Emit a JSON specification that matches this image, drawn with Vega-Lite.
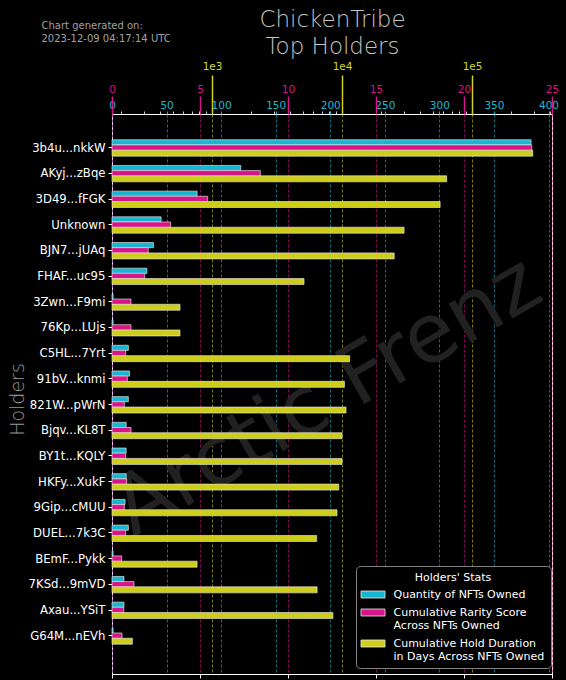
{
  "$schema": "https://vega.github.io/schema/vega-lite/v6.json",
  "autosize": "none",
  "width": 440,
  "height": 560,
  "padding": {"left": 112, "top": 114, "right": 14, "bottom": 6},
  "background": "black",
  "config": {
    "font": "DejaVu Sans",
    "view": {"stroke": "white", "strokeWidth": 1},
    "axis": {"labelFlush": false, "labelOverlap": false, "labelBound": false, "domain": false}
  },
  "data": {
    "values": [
      {"holder": "3b4u...nkkW", "qty": 384, "rarity": 23.85, "days": 293000},
      {"holder": "AKyj...zBqe", "qty": 118, "rarity": 8.43, "days": 63800},
      {"holder": "3D49...fFGK", "qty": 78, "rarity": 5.44, "days": 56800},
      {"holder": "Unknown", "qty": 45, "rarity": 3.33, "days": 30000},
      {"holder": "BJN7...jUAq", "qty": 38, "rarity": 2.06, "days": 25200},
      {"holder": "FHAF...uc95", "qty": 32, "rarity": 1.86, "days": 5100},
      {"holder": "3Zwn...F9mi", "qty": 1, "rarity": 1.08, "days": 567},
      {"holder": "76Kp...LUjs", "qty": 1, "rarity": 1.08, "days": 567},
      {"holder": "C5HL...7Yrt", "qty": 15, "rarity": 0.78, "days": 11450},
      {"holder": "91bV...knmi", "qty": 16, "rarity": 0.87, "days": 10430},
      {"holder": "821W...pWrN", "qty": 15, "rarity": 0.7, "days": 10730},
      {"holder": "Bjqv...KL8T", "qty": 13, "rarity": 1.08, "days": 10000},
      {"holder": "BY1t...KQLY", "qty": 13, "rarity": 0.78, "days": 10000},
      {"holder": "HKFy...XukF", "qty": 13, "rarity": 0.83, "days": 9440},
      {"holder": "9Gip...cMUU", "qty": 12, "rarity": 0.7, "days": 9150},
      {"holder": "DUEL...7k3C", "qty": 15, "rarity": 0.78, "days": 6380},
      {"holder": "BEmF...Pykk", "qty": 1, "rarity": 0.55, "days": 767},
      {"holder": "7KSd...9mVD", "qty": 11, "rarity": 1.25, "days": 6430},
      {"holder": "Axau...YSiT", "qty": 11, "rarity": 0.67, "days": 8510},
      {"holder": "G64M...nEVh", "qty": 1, "rarity": 0.57, "days": 244}
    ]
  },
  "encoding": {
    "y": {
      "field": "holder",
      "type": "nominal",
      "scale": {
        "domain": ["3b4u...nkkW", "AKyj...zBqe", "3D49...fFGK", "Unknown", "BJN7...jUAq", "FHAF...uc95", "3Zwn...F9mi", "76Kp...LUjs", "C5HL...7Yrt", "91bV...knmi", "821W...pWrN", "Bjqv...KL8T", "BY1t...KQLY", "HKFy...XukF", "9Gip...cMUU", "DUEL...7k3C", "BEmF...Pykk", "7KSd...9mVD", "Axau...YSiT", "G64M...nEVh"],
        "paddingInner": 0,
        "paddingOuter": 0.9,
        "align": 0.45
      },
      "axis": {
        "title": "Holders",
        "titleColor": "#9a9a9a",
        "titleFontSize": 19,
        "titleFontWeight": 200,
        "titleX": -95,
        "titleY": 285,
        "titleAngle": -90,
        "titleAlign": "center",
        "titleBaseline": "middle",
        "labelColor": "white",
        "labelFontSize": 11.7,
        "labelPadding": 3,
        "tickColor": "white",
        "tickSize": 4,
        "domain": false,
        "grid": false
      }
    }
  },
  "layer": [
    {
      "data": {"values": [{"w": 1}]},
      "mark": {"type": "text", "text": "Arctic Frenz", "fontSize": 82, "angle": -30, "color": "#212121", "align": "center", "baseline": "middle", "dy": -11, "dx": -3},
      "encoding": {
        "x": {
          "datum": 12.7,
          "type": "quantitative",
          "scale": {"domain": [0, 25], "nice": false, "zero": true},
          "axis": {"orient": "bottom", "values": [0, 5, 10, 15, 20, 25], "labels": false, "tickColor": "white", "tickSize": 4, "grid": false, "domain": false, "title": null}
        },
        "y": {"datum": "821W...pWrN", "type": "nominal"}
      }
    },
    {
      "mark": {"type": "bar", "size": 5.2, "yOffset": -5.3, "stroke": "#e8e8e8", "strokeWidth": 0.8, "strokeOpacity": 0.8},
      "encoding": {
        "x": {
          "field": "qty",
          "type": "quantitative",
          "scale": {"domain": [0, 403.2], "nice": false, "zero": true},
          "axis": {
            "orient": "top",
            "values": [0, 50, 100, 150, 200, 250, 300, 350, 400],
            "labelColor": "#22b6d2",
            "labelFontSize": 10.5,
            "labelPadding": 1,
            "tickColor": "#22b6d2",
            "tickSize": 3,
            "grid": true,
            "gridColor": "#1fb5cf",
            "gridDash": [3, 2],
            "gridOpacity": 0.6,
            "gridWidth": 1,
            "title": ["Chart generated on:", "2023-12-09 04:17:14 UTC"],
            "titleX": -71,
            "titleY": -86,
            "titleAlign": "left",
            "titleBaseline": "alphabetic",
            "titleAngle": 0,
            "titleColor": "#a0a0a0",
            "titleFontSize": 10,
            "titleFontWeight": "normal",
            "titleLineHeight": 13
          }
        },
        "color": {
          "datum": "Quantity of NFTs Owned",
          "type": "nominal",
          "scale": {
            "domain": ["Quantity of NFTs Owned", "Cumulative Rarity Score|Across NFTs Owned", "Cumulative Hold Duration|in Days Across NFTs Owned"],
            "range": ["#19b6d1", "#d9148a", "#cdcd1a"]
          },
          "legend": {
            "title": "Holders' Stats",
            "orient": "none",
            "legendX": 244,
            "legendY": 452,
            "padding": 6,
            "fillColor": "black",
            "strokeColor": "#808080",
            "cornerRadius": 4,
            "symbolType": "M-2.4,-0.7H2.4V0.7H-2.4Z",
            "symbolSize": 100,
            "symbolOffset": 5.5,
            "symbolStrokeColor": "#dddddd",
            "symbolStrokeWidth": 0.8,
            "symbolOpacity": 1,
            "labelColor": "white",
            "labelFontSize": 11,
            "labelOffset": 15,
            "labelLimit": 300,
            "labelExpr": "split(datum.label, '|')",
            "rowPadding": 6,
            "titleColor": "white",
            "titleFontSize": 11,
            "titleFontWeight": 400,
            "titleAnchor": "middle",
            "titlePadding": 6
          }
        }
      }
    },
    {
      "mark": {"type": "bar", "size": 5.5, "yOffset": 0, "stroke": "#e8e8e8", "strokeWidth": 0.8, "strokeOpacity": 0.8},
      "encoding": {
        "x": {
          "field": "rarity",
          "type": "quantitative",
          "scale": {"domain": [0, 25], "nice": false, "zero": true},
          "axis": {
            "orient": "top",
            "values": [0, 5, 10, 15, 20, 25],
            "labelColor": "#d9148a",
            "labelFontSize": 10.5,
            "labelPadding": 2,
            "tickColor": "#d9148a",
            "tickSize": 18,
            "tickWidth": 1.5,
            "grid": true,
            "gridColor": "#d9148a",
            "gridDash": [3, 2],
            "gridOpacity": 0.6,
            "gridWidth": 1,
            "title": null
          }
        },
        "color": {"datum": "Cumulative Rarity Score|Across NFTs Owned", "type": "nominal"}
      }
    },
    {
      "mark": {"type": "bar", "size": 6, "yOffset": 5.5, "stroke": "#e8e8e8", "strokeWidth": 0.8, "strokeOpacity": 0.8},
      "encoding": {
        "x": {
          "field": "days",
          "type": "quantitative",
          "scale": {"type": "log", "domain": [170, 412000], "nice": false},
          "axis": {
            "orient": "top",
            "values": [200, 300, 400, 500, 600, 700, 800, 900, 1000, 2000, 3000, 4000, 5000, 6000, 7000, 8000, 9000, 10000, 20000, 30000, 40000, 50000, 60000, 70000, 80000, 90000, 100000, 200000, 300000, 400000],
            "labelExpr": "datum.value == 1000 ? '1e3' : datum.value == 10000 ? '1e4' : datum.value == 100000 ? '1e5' : ''",
            "labelColor": "#d2d62c",
            "labelFontSize": 10.5,
            "labelPadding": 4,
            "tickSize": {"condition": {"test": "datum.value == 1000 || datum.value == 10000 || datum.value == 100000", "value": 39}, "value": 3},
            "tickColor": {"condition": {"test": "datum.value == 1000 || datum.value == 10000 || datum.value == 100000", "value": "#d0d01e"}, "value": "white"},
            "tickWidth": {"condition": {"test": "datum.value == 1000 || datum.value == 10000 || datum.value == 100000", "value": 1.5}, "value": 0.8},
            "grid": true,
            "gridColor": "#cdcd1a",
            "gridDash": [3, 2],
            "gridOpacity": {"condition": {"test": "datum.value == 1000 || datum.value == 10000 || datum.value == 100000", "value": 0.6}, "value": 0},
            "gridWidth": 1,
            "title": ["ChickenTribe", "Top Holders"],
            "titleX": 220,
            "titleY": -88,
            "titleAlign": "center",
            "titleBaseline": "alphabetic",
            "titleAngle": 0,
            "titleColor": "#c4c4c4",
            "titleFontSize": 23,
            "titleFontWeight": 200,
            "titleLineHeight": 27
          }
        },
        "x2": {"datum": 170},
        "color": {"datum": "Cumulative Hold Duration|in Days Across NFTs Owned", "type": "nominal"}
      }
    }
  ],
  "resolve": {"scale": {"x": "independent"}}
}
